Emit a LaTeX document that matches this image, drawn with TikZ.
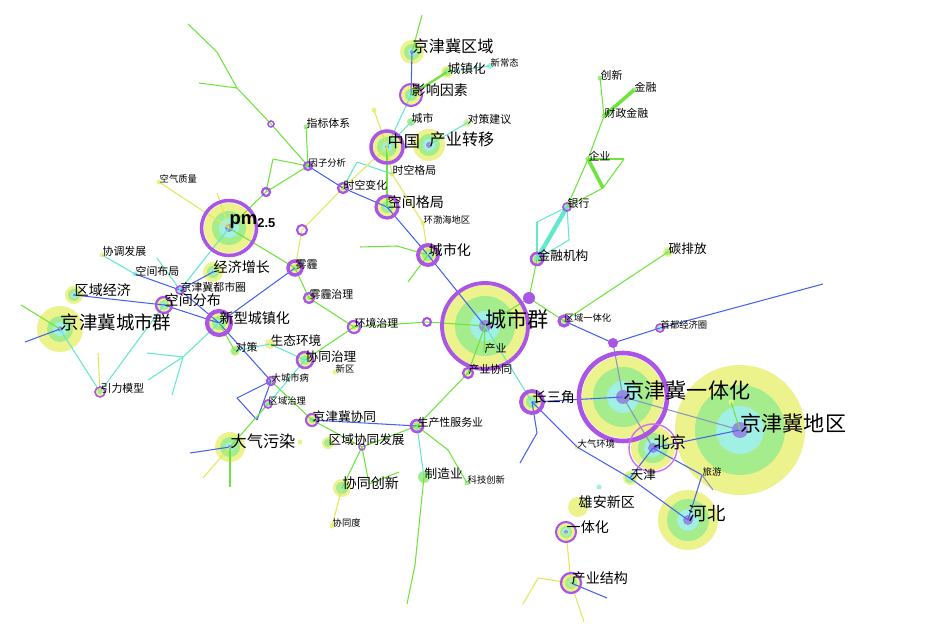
\documentclass[tikz,border=0pt]{standalone}
\usepackage{fontspec}
\setmainfont{Noto Sans CJK SC}
\newfontfamily\pmfont{Liberation Sans}
\usetikzlibrary{positioning}
\pgfdeclarelayer{bg}
\pgfsetlayers{bg,main}
\definecolor{cHY}{RGB}{236,242,140}
\definecolor{cHG}{RGB}{165,236,140}
\definecolor{cHC}{RGB}{160,240,228}
\definecolor{cHB}{RGB}{150,140,228}
\definecolor{cRP}{RGB}{170,85,230}
\definecolor{cRQ}{RGB}{215,110,230}
\definecolor{cLG}{RGB}{110,228,60}
\definecolor{cLC}{RGB}{100,232,205}
\definecolor{cLB}{RGB}{70,100,235}
\definecolor{cLY}{RGB}{228,230,90}
\definecolor{cLR}{RGB}{135,150,190}
\tikzset{
	kw/.style={
		circle,
		inner sep=0pt,
		minimum size=0pt,
		label distance=1pt
	},
	fa/.style={font=\fontsize{12}{12}\selectfont,yshift=4pt},
	fb/.style={font=\fontsize{10.5}{10.5}\selectfont,yshift=3.5pt},
	fc/.style={font=\fontsize{9.2}{9.2}\selectfont,yshift=3pt},
	fd/.style={font=\fontsize{8}{8}\selectfont,yshift=2.5pt},
	fe/.style={font=\fontsize{7.2}{7.2}\selectfont,yshift=2pt},
	ff/.style={font=\fontsize{6.2}{6.2}\selectfont,yshift=1.8pt},
	fg/.style={font=\fontsize{5.3}{5.3}\selectfont,yshift=1.5pt},
	grn/.style={draw=cLG,line width=0.6pt},
	cyn/.style={draw=cLC,line width=0.6pt},
	blu/.style={draw=cLB,line width=0.6pt},
	yel/.style={draw=cLY,line width=0.6pt},
	gry/.style={draw=cLR,line width=0.6pt},
	ring/.style={draw=cRP}
}
\begin{document}
\begin{tikzpicture}[x=0.02cm,y=-0.02cm,every label/.style={inner sep=0pt,text=black}]
\useasboundingbox (0,0) rectangle (933,624);
% keywords
\node[kw,label={[fa]right:城市群}] (csq) at (485,326) {};
\node[kw,label={[fa]right:京津冀一体化}] (jjjyth) at (623,397) {};
\node[kw,label={[fa]right:京津冀地区}] (jjjdq) at (740,430) {};
\node[kw,label={[fc]right:北京}] (bj) at (653,448) {};
\node[kw,label={[fb]right:河北}] (hb) at (688,520) {};
\node[kw,label={[fe]right:天津}] (tj) at (630,478) {};
\node[kw,label={[fd]right:长三角}] (csj) at (532,402) {};
\node[kw,label={[fd]right:雄安新区}] (xaxq) at (578,507) {};
\node[kw,label={[fd]right:一体化}] (yth) at (566,532) {};
\node[kw,label={[fd]right:产业结构}] (cyjg) at (571,583) {};
\node[kw,label={[fg]right:旅游}] (lvy) at (702,475) {};
\node[kw,label={[fg]right:大气环境}] (dqhj) at (577,447) {};
\node[kw,label={[fg]right:首都经济圈}] (sdjjq) at (660,328) {};
\node[kw,label={[fg]right:区域一体化}] (qyyth) at (564,321) {};
\node[kw,label={[ff]right:产业}] (cy) at (484,352) {};
\node[kw,label={[ff]right:产业协同}] (cyxt) at (468,373) {};
\node[kw,label={[fe]right:金融机构}] (jrjg) at (537,259) {};
\node[kw,label={[ff]right:银行}] (yh) at (567,207) {};
\node[kw,label={[ff]right:企业}] (qy) at (588,159) {};
\node[kw,label={[ff]right:财政金融}] (czjr) at (604,116) {};
\node[kw,label={[ff]right:创新}] (cx) at (600,78) {};
\node[kw,label={[ff]right:金融}] (jr) at (634,90) {};
\node[kw,label={[fe]right:碳排放}] (tpf) at (668,252) {};
\node[kw,label={[fc]right:京津冀区域}] (jjjqy) at (412,52) {};
\node[kw,label={[fe]right:城镇化}] (czh) at (447,72) {};
\node[kw,label={[fg]right:新常态}] (xct) at (490,66) {};
\node[kw,label={[fd]right:影响因素}] (yxys) at (411,95) {};
\node[kw,label={[ff]right:城市}] (cs) at (411,122) {};
\node[kw,label={[ff]right:对策建议}] (dcjy) at (467,123) {};
\node[kw,label={[fc]right:中国}] (zg) at (387,147) {};
\node[kw,label={[fc]right:产业转移}] (cyzy) at (429,145) {};
\node[kw,label={[ff]right:时空格局}] (skgj) at (392,174) {};
\node[kw,label={[ff]right:时空变化}] (skbh) at (343,188) {};
\node[kw,label={[fd]right:空间格局}] (kjgj) at (387,207) {};
\node[kw,label={[fg]right:环渤海地区}] (bhdq) at (423,223) {};
\node[kw,label={[fd]right:城市化}] (csh) at (428,255) {};
\node[kw,label={[ff]right:指标体系}] (zbtx) at (306,127) {};
\node[kw,label={[fg]right:因子分析}] (yzfx) at (308,166) {};
\node[kw,label={[fb]right:{\pmfont\bfseries pm\textsubscript{2.5}}}] (pm) at (229,228) {};
\node[kw,label={[fg]right:空气质量}] (kqzl) at (159,182) {};
\node[kw,label={[ff]right:雾霾}] (wm) at (295,268) {};
\node[kw,label={[ff]right:雾霾治理}] (wmzl) at (309,298) {};
\node[kw,label={[fd]right:经济增长}] (jjzz) at (213,272) {};
\node[kw,label={[ff]right:京津冀都市圈}] (jjjdsq) at (180,290) {};
\node[kw,label={[ff]right:协调发展}] (xtfz) at (102,255) {};
\node[kw,label={[ff]right:空间布局}] (kjbj) at (135,274) {};
\node[kw,label={[fd]right:区域经济}] (qyjj) at (74,295) {};
\node[kw,label={[fd]right:空间分布}] (kjfb) at (164,305) {};
\node[kw,label={[fb]right:京津冀城市群}] (jjjcsq) at (60,329) {};
\node[kw,label={[fd]right:新型城镇化}] (xxczh) at (219,323) {};
\node[kw,label={[ff]right:对策}] (dc) at (235,351) {};
\node[kw,label={[fe]right:生态环境}] (sthj) at (270,344) {};
\node[kw,label={[fe]right:协同治理}] (xtzl) at (305,360) {};
\node[kw,label={[fg]right:新区}] (xq) at (335,372) {};
\node[kw,label={[ff]right:环境治理}] (hjzl) at (354,327) {};
\node[kw,label={[fg]right:大城市病}] (dcsb) at (271,381) {};
\node[kw,label={[fg]right:区域治理}] (qyzl) at (268,404) {};
\node[kw,label={[fe]right:京津冀协同}] (jjjxt) at (312,420) {};
\node[kw,label={[fc]right:大气污染}] (dqwr) at (230,447) {};
\node[kw,label={[fe]right:区域协同发展}] (qyxtfz) at (328,443) {};
\node[kw,label={[fd]right:协同创新}] (xtcx) at (342,488) {};
\node[kw,label={[fg]right:协同度}] (xtd) at (332,526) {};
\node[kw,label={[ff]right:生产性服务业}] (scxfwy) at (417,426) {};
\node[kw,label={[fe]right:制造业}] (zzy) at (424,477) {};
\node[kw,label={[fg]right:科技创新}] (kjcx) at (467,483) {};
\node[kw,label={[ff]right:引力模型}] (ylmx) at (100,392) {};
% junctions and loose ends
\coordinate (j1) at (613,343);
\coordinate (j2) at (529,298);
\coordinate (j3) at (427,322);
\coordinate (j4) at (302,230);
\coordinate (j5) at (271,124);
\coordinate (j6) at (266,192);
\coordinate (j7) at (362,447);
\coordinate (p1) at (823,284);
\coordinate (p2) at (422,15);
\coordinate (p3) at (374,110);
\coordinate (p4) at (357,162);
\coordinate (p5) at (237,88);
\coordinate (p6) at (199,83);
\coordinate (p7) at (217,52);
\coordinate (p8) at (188,24);
\coordinate (p9) at (273,159);
\coordinate (p10) at (217,193);
\coordinate (p11) at (157,258);
\coordinate (p13) at (25,342);
\coordinate (p14) at (21,305);
\coordinate (p15) at (98,353);
\coordinate (p16) at (183,357);
\coordinate (p17) at (147,353);
\coordinate (p18) at (148,380);
\coordinate (p19) at (172,395);
\coordinate (p20) at (237,398);
\coordinate (p21) at (257,420);
\coordinate (p22) at (190,453);
\coordinate (p23) at (203,478);
\coordinate (p24) at (230,487);
\coordinate (p25) at (300,442);
\coordinate (p26) at (369,484);
\coordinate (p27) at (399,472);
\coordinate (p28) at (415,565);
\coordinate (p29) at (407,604);
\coordinate (p30) at (448,450);
\coordinate (p31) at (537,433);
\coordinate (p32) at (520,463);
\coordinate (p33) at (713,490);
\coordinate (p34) at (607,598);
\coordinate (p35) at (538,578);
\coordinate (p36) at (523,604);
\coordinate (p37) at (584,622);
\coordinate (p38) at (624,159);
\coordinate (p39) at (603,188);
\coordinate (p40) at (537,222);
\coordinate (p41) at (569,240);
\coordinate (p43) at (360,247);
\coordinate (p44) at (397,246);
\coordinate (p45) at (408,282);
\coordinate (p46) at (599,487);
\coordinate (p47) at (731,402);
\begin{pgfonlayer}{bg}
\fill[white] (0,0) rectangle (933,624);
% halos
\foreach \n/\a/\b/\c/\d in {jjjdq/65/45/24/8, csq/41/30/15/6, jjjyth/41/30/16/7,
	hb/30/21/11/5, pm/25/17/10/4, jjjcsq/23/13/7/2.5, bj/22/15/9/5, cyzy/16/11/6/3,
	zg/15/10/5/2, dqwr/15/10/5/2, jjjqy/12/8/4/2, yxys/10/6/3/1, kjgj/10/6/3/1.5,
	csh/9/6/3/1.5, jjzz/10/6/3/1.5, qyjj/9/6/3/1.5, xxczh/10/7/3/1.5, xtcx/9/6/2/1,
	xaxq/10/0/0/0, yth/9/6/4/2, cyjg/9/6/3/1.5, csj/9/6/3/1.5, kjfb/7/5/3/1.5,
	tj/7/5/3/1.5, xtzl/7/5/2/0, czh/6/4/0/0, qyxtfz/6/4/0/0, tpf/5/3/0/0,
	dc/5/4/0/0, sthj/5/0/0/0, zzy/0/6/0/0, cs/0/4/0/0, wm/5/3/0/0, jrjg/5/4/0/0,
	jjjxt/5/3/0/0, scxfwy/5/4/0/0, ylmx/4/2/0/0, hjzl/4/2/0/0, wmzl/4/2/0/0,
	skbh/4/2/0/0, cyxt/4/2/0/0, qyyth/4/2/0/0, dcjy/4/0/2/0, xct/0/0/3/0}{
	\fill[cHY] (\n) circle (\a);
	\fill[cHG] (\n) circle (\b);
	\fill[cHC] (\n) circle (\c);
	\fill[cHB] (\n) circle (\d);
}
\foreach \n/\c in {kqzl/cHY, xtfz/cHY, xq/cHY, xtd/cHY, skgj/cHY, bhdq/cHY,
	p3/cHY, p25/cHY, p47/cHY, dqhj/cHY, lvy/cHY, zbtx/cHG, czjr/cHG, cx/cHG,
	jr/cHG, qy/cHG, kjcx/cHG, yh/cHG, cy/cHG, kjbj/cHC, p46/cHC, sdjjq/cHC,
	dcsb/cHG, qyzl/cHG, jjjdsq/cHC, yzfx/cHG}
	\fill[\c] (\n) circle (2.5);
% links
\foreach \a/\b in {jjjqy/yxys, yzfx/skbh, skbh/kjgj, kjgj/csh, csh/csq, wm/xxczh,
	jjzz/jjjdsq, kjbj/jjjdsq, jjjdsq/xxczh, qyjj/kjfb, kjfb/xxczh, jjjcsq/p13,
	xxczh/dcsb, dcsb/p20, p20/p21, p21/dcsb, dqwr/p22, jjjxt/scxfwy, qyyth/j1,
	j1/sdjjq, sdjjq/p1, csj/jjjyth, csj/p31, p31/p32, csj/dqhj, dqhj/tj, tj/hb,
	bj/jjjdq, bj/tj, lvy/hb, bj/lvy, cyjg/p34}
	\draw[blu] (\a) -- (\b);
\foreach \a/\b in {j1/jjjyth, jjjyth/bj, jjjyth/jjjdq, lvy/p33}
	\draw[gry] (\a) -- (\b);
\foreach \a/\b in {p2/jjjqy, zg/kjgj, yzfx/zbtx, yzfx/j5, j5/p5, p5/p6, p5/p7,
	p7/p8, yzfx/p9, p9/j6, yzfx/j6, j6/pm, pm/wm, wm/wmzl, wmzl/hjzl, hjzl/j3,
	j3/csq, p14/jjjcsq, xtzl/hjzl, qyzl/dqwr, dcsb/jjjxt, jjjxt/j7, j7/scxfwy,
	j7/xtcx, j7/p26, p26/p27, dqwr/p24, scxfwy/cyxt, cyxt/csq, cy/csq,
	scxfwy/p30, p30/kjcx, zzy/p28, p28/p29, csq/j2, j2/jrjg, yh/qy, qy/czjr,
	czjr/cx, qy/p38, p38/p39, p39/yh, j2/qyyth, qyyth/tpf, p43/p44, p44/csh,
	p45/csh, xxczh/dc, p47/jjjdq}
	\draw[grn] (\a) -- (\b);
\draw[grn,line width=1.3pt] (yxys) -- (czh);
\draw[grn,line width=2pt] (czjr) -- (jr);
\draw[grn,line width=2pt] (qy) -- (p39);
\foreach \a/\b in {czh/xct, yxys/zg, cs/zg, cyzy/dcjy, skbh/p4, p4/skgj,
	pm/jjjdsq, p11/jjjdsq, xtfz/kjbj, jjjcsq/ylmx, kjfb/ylmx, xxczh/p16,
	p16/p17, p16/p18, p16/p19, dc/sthj, sthj/xtzl, xtzl/qyzl, scxfwy/zzy,
	csq/csj, jrjg/p40, p40/yh, jrjg/p41, p41/yh}
	\draw[cyn] (\a) -- (\b);
\draw[cyn,line width=2.5pt] (jrjg) -- (yh);
\foreach \a/\b in {zg/p3, zg/skgj, skgj/bhdq, bhdq/csh, zg/skbh, skbh/j4,
	j4/wm, pm/kqzl, pm/p10, xtcx/xtd, dqwr/p23, ylmx/p15, yth/cyjg, cyjg/p35,
	p35/p36, cyjg/p37}
	\draw[yel] (\a) -- (\b);
% centrality rings
\foreach \n/\r/\w in {csq/43/2.2pt, jjjyth/44/2.6pt, pm/27.5/2pt, zg/16/2pt,
	yxys/11/1.2pt, kjgj/11/1.8pt, csh/10/2.2pt, xxczh/12/2.4pt, csj/11/2.2pt,
	yth/10/1.2pt, cyjg/10/1.3pt, wm/7/2pt, kjfb/8/1.3pt, xtzl/8/1.5pt,
	jjjxt/6/1.2pt, jrjg/6/1.5pt, hjzl/6/1.3pt, wmzl/5/1.3pt, skbh/5/1.3pt,
	cyxt/5/1.3pt, scxfwy/6/1.5pt, ylmx/5/0.9pt, qyyth/5/1.8pt, yh/4/1pt,
	dcsb/4/1.3pt, qyzl/4/1pt, jjjdsq/4/1pt, yzfx/4/1.2pt, sdjjq/4/1pt,
	j3/4/1.2pt, j4/5/1.2pt, j5/3/0.9pt, j6/4/1.3pt, j7/3/0.8pt}
	\draw[ring,line width=\w] (\n) circle (\r);
\draw[draw=cRQ,line width=0.8pt] (bj) circle (24);
\fill[cRP] (j1) circle (5);
\fill[cRP] (j2) circle (6);
\end{pgfonlayer}
\end{tikzpicture}
\end{document}
